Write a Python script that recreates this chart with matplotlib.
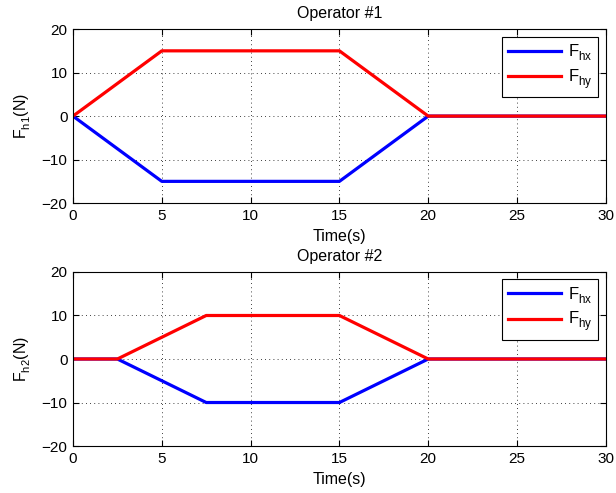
import numpy as np
import matplotlib
matplotlib.use('Agg')
import matplotlib.pyplot as plt
from matplotlib import _mathtext

plt.rcParams['font.family'] = ['Liberation Sans', 'DejaVu Sans']
plt.rcParams['mathtext.fontset'] = 'custom'
plt.rcParams['mathtext.rm'] = 'Liberation Sans'
plt.rcParams['mathtext.it'] = 'Liberation Sans:italic'
plt.rcParams['mathtext.default'] = 'rm'
# push subscripts a bit lower, like the original
_mathtext.FontConstantsBase.sub1 = 0.55
_mathtext.FontConstantsBase.sub2 = 0.6

# operator 1 profile
t1 = [0, 5, 15, 20, 30]
fhx1 = [0, -15, -15, 0, 0]
fhy1 = [0, 15, 15, 0, 0]

# operator 2 profile
t2 = [0, 2.5, 7.5, 15, 20, 30]
fhx2 = [0, 0, -10, -10, 0, 0]
fhy2 = [0, 0, 10, 10, 0, 0]

titles = ['Operator #1', 'Operator #2']
ylabels = ['F$_{h1}$(N)', 'F$_{h2}$(N)']
xticks = [0, 5, 10, 15, 20, 25, 30]
yticks = [-20, -10, 0, 10, 20]

fig = plt.figure(figsize=(6.16, 4.93), dpi=100)
fig.patch.set_facecolor('white')
ax1 = fig.add_axes([0.1185, 0.588, 0.865, 0.353])
ax2 = fig.add_axes([0.1185, 0.0953, 0.865, 0.353])

data = [(t1, fhx1, fhy1), (t2, fhx2, fhy2)]
for ax, (t, fx, fy), title, ylab in zip([ax1, ax2], data, titles, ylabels):
    ax.plot(t, fx, color='#0000ff', lw=2.3, label='F$_{hx}$')
    ax.plot(t, fy, color='#ff0000', lw=2.3, label='F$_{hy}$')
    ax.set_xlim(0, 30)
    ax.set_ylim(-20, 20)
    ax.set_xticks(xticks)
    ax.set_yticks(yticks)
    ax.set_yticklabels([str(v).replace('-', '\u2212') for v in yticks])
    ax.tick_params(direction='in', top=True, right=True, length=4,
                   labelsize=11, pad=4, width=0.8)
    ax.grid(True, color='black', linestyle=(0, (1, 4)), linewidth=0.6)
    for s in ax.spines.values():
        s.set_linewidth(0.8)
    ax.set_title(title, fontsize=11.5, pad=8)
    ax.set_xlabel('Time(s)', fontsize=11.5, labelpad=4.5)
    ax.set_ylabel(ylab, fontsize=11.5, labelpad=6)
    leg = ax.legend(loc='upper right', fontsize=12, handlelength=3.2,
                    fancybox=False, framealpha=1, edgecolor='black',
                    borderpad=0.35, labelspacing=0.2, handletextpad=0.4,
                    borderaxespad=0.45)
    leg.get_frame().set_linewidth(0.8)

fig.savefig('out.png', dpi=100, facecolor='white')
